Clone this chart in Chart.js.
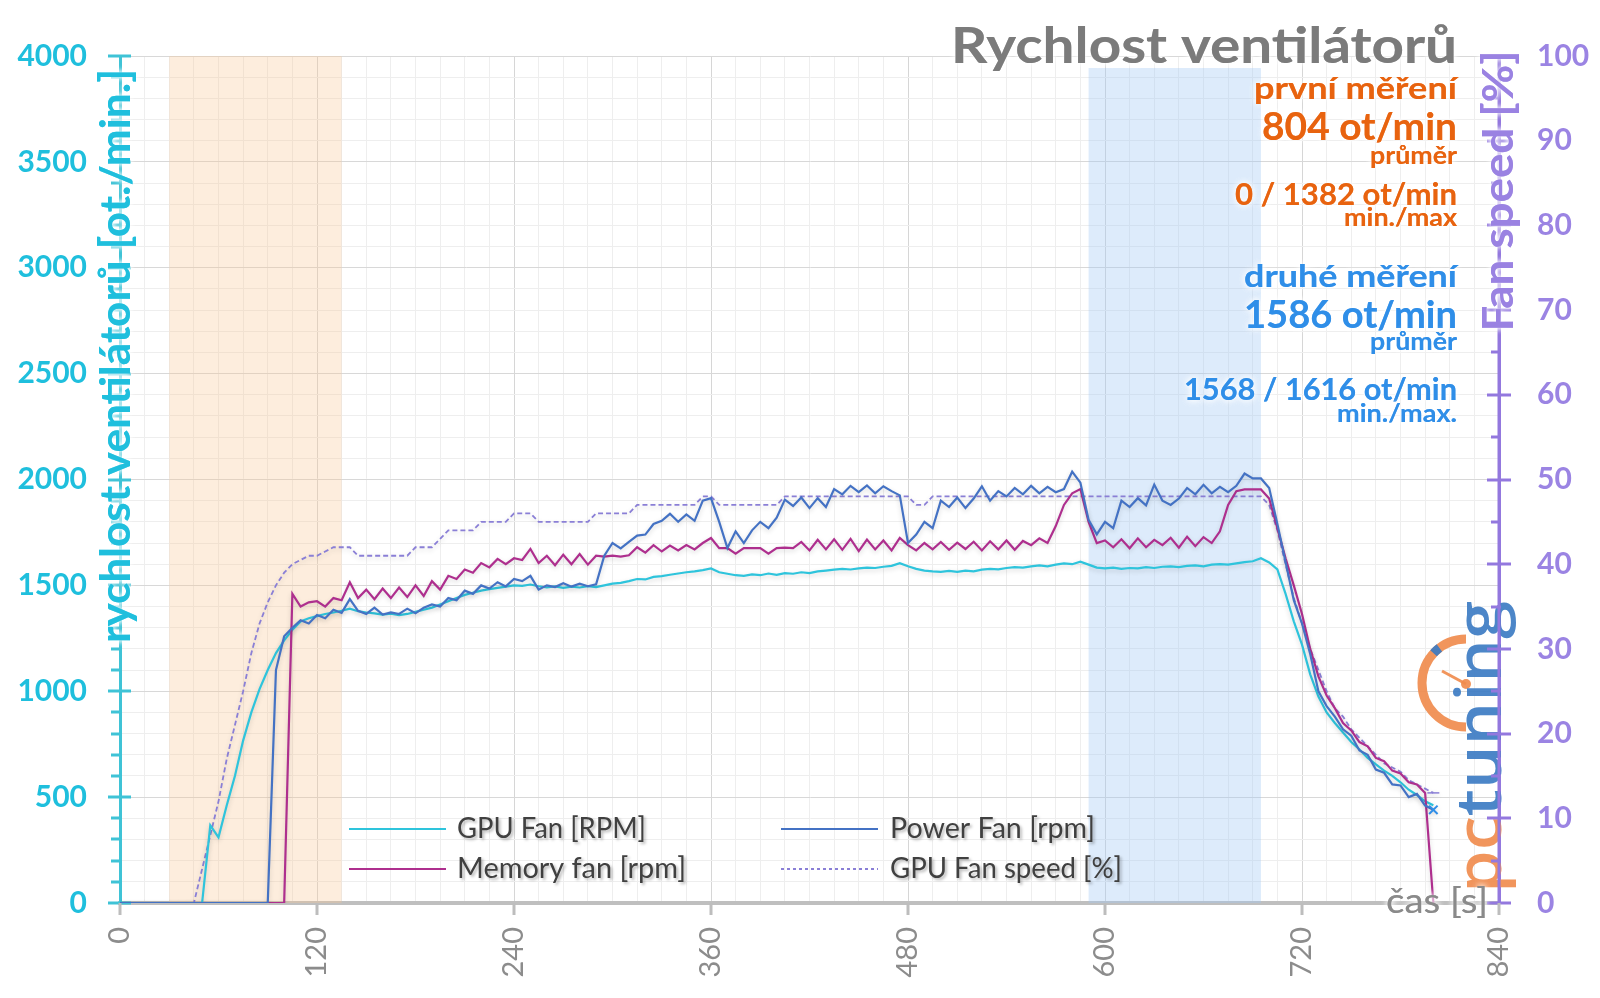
<!DOCTYPE html>
<html>
<head>
<meta charset="utf-8">
<script src="https://cdn.jsdelivr.net/npm/chart.js@4.4.0/dist/chart.umd.min.js"></script>
<style>
  html, body { margin: 0; padding: 0; background: #fff; }
  #wrap { width: 1600px; height: 998px; }
</style>
</head>
<body>
<div id="wrap"><canvas id="chart" width="1600" height="998"></canvas></div>
<script>
// time axis [s]
const seconds = [
  0, 5, 10, 15, 20, 25, 30, 35, 40, 45,
  50, 55, 60, 65, 70, 75, 80, 85, 90, 95,
  100, 105, 110, 115, 120, 125, 130, 135, 140, 145,
  150, 155, 160, 165, 170, 175, 180, 185, 190, 195,
  200, 205, 210, 215, 220, 225, 230, 235, 240, 245,
  250, 255, 260, 265, 270, 275, 280, 285, 290, 295,
  300, 305, 310, 315, 320, 325, 330, 335, 340, 345,
  350, 355, 360, 365, 370, 375, 380, 385, 390, 395,
  400, 405, 410, 415, 420, 425, 430, 435, 440, 445,
  450, 455, 460, 465, 470, 475, 480, 485, 490, 495,
  500, 505, 510, 515, 520, 525, 530, 535, 540, 545,
  550, 555, 560, 565, 570, 575, 580, 585, 590, 595,
  600, 605, 610, 615, 620, 625, 630, 635, 640, 645,
  650, 655, 660, 665, 670, 675, 680, 685, 690, 695,
  700, 705, 710, 715, 720, 725, 730, 735, 740, 745,
  750, 755, 760, 765, 770, 775, 780, 785, 790, 795,
  800
];

const gpuFanRpm = [
  0, 0, 0, 0, 0, 0, 0, 0, 0, 0,
  0, 367, 310, 460, 600, 767, 900, 1010, 1100, 1180,
  1240, 1290, 1330, 1345, 1355, 1365, 1372, 1380, 1390, 1378,
  1372, 1368, 1362, 1366, 1360, 1365, 1375, 1385, 1395, 1410,
  1425, 1440, 1455, 1465, 1475, 1482, 1488, 1494, 1500, 1498,
  1504, 1496, 1490, 1495, 1488, 1494, 1490, 1496, 1492, 1500,
  1508, 1512, 1520, 1530, 1528, 1540, 1544, 1550, 1556, 1562,
  1566, 1572, 1580, 1562, 1555, 1548, 1545, 1552, 1548, 1556,
  1550, 1558, 1555, 1562, 1558, 1566, 1570, 1574, 1578, 1575,
  1580, 1584, 1582, 1588, 1592, 1605, 1590, 1578, 1570, 1566,
  1564, 1568, 1564, 1570, 1566, 1574, 1578, 1576, 1582, 1586,
  1584, 1590, 1594, 1590, 1598, 1604, 1600, 1612, 1598, 1584,
  1580, 1584, 1578, 1582, 1580, 1586, 1582, 1588, 1590, 1586,
  1592, 1594, 1590, 1598, 1600, 1598, 1604, 1610, 1614, 1628,
  1608, 1575, 1460, 1330, 1220, 1080, 975, 900, 850, 805,
  760, 725, 685, 655, 625, 600, 570, 535, 510, 480,
  462
];

const powerFanRpm = [
  0, 0, 0, 0, 0, 0, 0, 0, 0, 0,
  0, 0, 0, 0, 0, 0, 0, 0, 0, 1100,
  1260, 1300, 1335, 1320, 1360, 1345, 1385, 1370, 1435, 1380,
  1365, 1395, 1362, 1372, 1365, 1390, 1368, 1395, 1410, 1400,
  1440, 1430, 1475, 1460, 1500, 1485, 1515, 1495, 1530, 1520,
  1545, 1480, 1500, 1492, 1510, 1494, 1508, 1496, 1505, 1640,
  1700, 1675, 1705, 1735, 1740, 1790, 1805, 1838, 1800, 1835,
  1805, 1900, 1912, 1800, 1676, 1755, 1700, 1760, 1800, 1770,
  1820, 1905, 1875, 1915, 1865, 1912, 1870, 1955, 1930, 1970,
  1940, 1972, 1935, 1968, 1945, 1925, 1700, 1740, 1800, 1770,
  1900, 1870, 1915, 1865, 1910, 1968, 1900, 1945, 1920, 1960,
  1930, 1970, 1935, 1965, 1940, 1955, 2037, 1985, 1810, 1741,
  1800, 1770, 1900, 1870, 1912, 1878, 1976, 1900, 1880, 1910,
  1960, 1930, 1975, 1935, 1965, 1940, 1970, 2028, 2005, 2005,
  1960, 1790, 1610, 1430, 1320, 1176, 1000, 930, 880, 820,
  790, 720, 700, 630, 615, 560, 555, 500, 515, 460,
  440
];

const memoryFanRpm = [
  0, 0, 0, 0, 0, 0, 0, 0, 0, 0,
  0, 0, 0, 0, 0, 0, 0, 0, 0, 0,
  0, 1460, 1400, 1420, 1425, 1400, 1440, 1430, 1515, 1440,
  1480, 1435, 1485, 1440, 1490, 1445, 1500, 1450, 1520, 1480,
  1545, 1530, 1575, 1560, 1605, 1585, 1625, 1600, 1628, 1620,
  1672, 1605, 1640, 1595, 1645, 1600, 1648, 1598, 1640, 1636,
  1640, 1636, 1642, 1680, 1655, 1690, 1660, 1688, 1665, 1690,
  1670, 1700, 1724, 1676, 1676, 1650, 1676, 1676, 1676, 1650,
  1676, 1678, 1676, 1705, 1665, 1715, 1670, 1718, 1668, 1720,
  1662, 1716, 1670, 1712, 1665, 1724, 1690, 1665, 1700, 1670,
  1705, 1668, 1702, 1672, 1706, 1665, 1708, 1670, 1712, 1668,
  1710, 1690, 1722, 1700, 1780, 1880, 1935, 1955, 1800, 1700,
  1712, 1680, 1718, 1675, 1722, 1680, 1715, 1690, 1725, 1678,
  1730, 1685, 1728, 1700, 1755, 1880, 1945, 1953, 1953, 1953,
  1910, 1770, 1628, 1500, 1365, 1200, 1070, 980, 920, 850,
  815, 760, 740, 685, 670, 625, 612, 570, 560, 520,
  0
];

const gpuFanPct = [
  0, 0, 0, 0, 0, 0, 0, 0, 0, 0,
  4, 8, 12, 17, 21, 25, 29.5, 33, 35.5, 37.5,
  39, 40, 40.5, 41, 41, 41.5, 42, 42, 42, 41,
  41, 41, 41, 41, 41, 41, 42, 42, 42, 43,
  44, 44, 44, 44, 45, 45, 45, 45, 46, 46,
  46, 45, 45, 45, 45, 45, 45, 45, 46, 46,
  46, 46, 46, 47, 47, 47, 47, 47, 47, 47,
  47, 48, 48, 47, 47, 47, 47, 47, 47, 47,
  47, 48, 48, 48, 48, 48, 48, 48, 48, 48,
  48, 48, 48, 48, 48, 48, 48, 47, 47, 48,
  48, 48, 48, 48, 48, 48, 48, 48, 48, 48,
  48, 48, 48, 48, 48, 48, 48, 48, 48, 48,
  48, 48, 48, 48, 48, 48, 48, 48, 48, 48,
  48, 48, 48, 48, 48, 48, 48, 48, 48, 48,
  47, 44, 40, 36, 33, 30, 27.5, 25, 23, 22,
  20.5, 19.5, 18.5, 17.5, 16.5, 16, 15.5, 14.5, 14, 13.5,
  13
];

// measured windows [s]
const firstRun = [30, 135];
const secondRun = [590, 695];

const summaryFirst = ['první měření', '804 ot/min', 'průměr', '0 / 1382 ot/min', 'min./max'];
const summarySecond = ['druhé měření', '1586 ot/min', 'průměr', '1568 / 1616 ot/min', 'min./max.'];

const FONT = 'Lato, "Open Sans", "DejaVu Sans", sans-serif';
const lastIdx = seconds.length - 1;

function pts(arr) {
  return seconds.map((s, i) => ({ x: s, y: arr[i] }));
}

// draw text squeezed/stretched to a target width
function drawFitted(ctx, text, o) {
  ctx.save();
  ctx.font = (o.weight || 'bold') + ' ' + o.size + 'px ' + (o.family || FONT);
  const w = ctx.measureText(text).width;
  const sx = o.width ? o.width / w : 1;
  const dw = w * sx;
  ctx.translate(o.x, o.y);
  if (o.rotate) ctx.rotate(-Math.PI / 2);
  let start = 0;
  if (o.align === 'right') start = -dw;
  else if (o.align === 'center') start = -dw / 2;
  ctx.translate(start, 0);
  ctx.scale(sx, 1);
  ctx.textAlign = 'left';
  ctx.textBaseline = o.baseline || 'alphabetic';
  if (o.glow) { ctx.shadowColor = o.glow; ctx.shadowBlur = 6; }
  if (o.shadow) { ctx.shadowColor = o.shadow; ctx.shadowBlur = 3; ctx.shadowOffsetX = 2; ctx.shadowOffsetY = 2; }
  ctx.fillStyle = o.color;
  ctx.fillText(text, 0, 0);
  if (o.glow) ctx.fillText(text, 0, 0);
  ctx.restore();
}

function drawLogo(ctx) {
  const cx = 1466, cy = 683, r = 44;
  ctx.save();
  ctx.globalAlpha = 0.92;
  ctx.strokeStyle = '#f08c4e';
  ctx.lineWidth = 9;
  ctx.beginPath();
  ctx.arc(cx, cy, r, -Math.PI / 2, Math.PI / 2, true);
  ctx.stroke();
  ctx.strokeStyle = '#3d7cc3';
  ctx.beginPath();
  ctx.arc(cx, cy, r, -2.4, -2.22);
  ctx.stroke();
  ctx.strokeStyle = '#f08c4e';
  ctx.lineWidth = 3;
  ctx.beginPath();
  ctx.moveTo(1442, 671);
  ctx.lineTo(cx, cy + 1);
  ctx.stroke();
  ctx.fillStyle = '#f08c4e';
  ctx.beginPath();
  ctx.arc(cx, cy + 1, 5, 0, Math.PI * 2);
  ctx.fill();

  ctx.translate(1501, 893);
  ctx.rotate(-Math.PI / 2);
  ctx.font = '600 64px "Open Sans", sans-serif';
  const wpc = ctx.measureText('pc').width;
  const wt = ctx.measureText('tuning').width;
  const sx = 292 / (wpc + wt);
  ctx.scale(sx, 1);
  ctx.textBaseline = 'alphabetic';
  ctx.fillStyle = '#f08c4e';
  ctx.fillText('pc', 0, 0);
  ctx.fillStyle = '#3d7cc3';
  ctx.fillText('tuning', wpc, 0);
  ctx.restore();
}

const decor = {
  id: 'decor',
  beforeDatasetsDraw(chart) {
    const { ctx, chartArea: a, scales: { x, y, y1 } } = chart;
    ctx.save();
    // measurement windows
    ctx.fillStyle = 'rgba(250,200,150,0.32)';
    ctx.fillRect(x.getPixelForValue(firstRun[0]), a.top, x.getPixelForValue(firstRun[1]) - x.getPixelForValue(firstRun[0]), a.bottom - a.top);
    ctx.fillStyle = 'rgba(160,200,245,0.36)';
    ctx.fillRect(x.getPixelForValue(secondRun[0]), a.top + 12, x.getPixelForValue(secondRun[1]) - x.getPixelForValue(secondRun[0]), a.bottom - a.top - 12);

    drawLogo(ctx);

    // left axis tick marks
    ctx.strokeStyle = '#3fc3d6';
    ctx.lineWidth = 3;
    for (let v = 0; v <= 4000; v += 100) {
      const py = Math.round(y.getPixelForValue(v));
      const major = v % 500 === 0;
      ctx.beginPath();
      ctx.moveTo(a.left - (major ? 12 : 9), py);
      ctx.lineTo(a.left + (major ? 11 : 0), py);
      ctx.stroke();
    }
    // right axis line + tick marks
    ctx.strokeStyle = '#9378de';
    ctx.beginPath();
    ctx.moveTo(a.right, a.top);
    ctx.lineTo(a.right, a.bottom);
    ctx.stroke();
    for (let v = 0; v <= 100; v += 5) {
      const py = Math.round(y1.getPixelForValue(v));
      const major = v % 10 === 0;
      ctx.beginPath();
      ctx.moveTo(a.right - (major ? 12 : 8), py);
      ctx.lineTo(a.right + (major ? 12 : 2), py);
      ctx.stroke();
    }
    // x axis tick marks
    ctx.strokeStyle = '#bdbdbd';
    for (let v = 0; v <= 840; v += 120) {
      const px = Math.round(x.getPixelForValue(v));
      ctx.beginPath();
      ctx.moveTo(px, a.bottom);
      ctx.lineTo(px, a.bottom + 12);
      ctx.stroke();
    }
    ctx.restore();
  },
  beforeDatasetDraw(chart) {
    const ctx = chart.ctx;
    ctx.save();
    ctx.shadowColor = 'rgba(0,0,0,0.16)';
    ctx.shadowBlur = 5;
    ctx.shadowOffsetY = 2;
  },
  afterDatasetDraw(chart) {
    chart.ctx.restore();
  },
  afterDraw(chart) {
    const ctx = chart.ctx;
    const orange = '#e8630f', blue = '#2f8ee8', white = 'rgba(255,255,255,1)';

    drawFitted(ctx, 'Rychlost ventilátorů', { x: 1457, y: 63, size: 50, width: 506, align: 'right', color: '#7b7b7b', glow: white });

    const specs = [
      { y: 99, size: 31, width: 203 },
      { y: 140, size: 38, width: 195 },
      { y: 164, size: 25, width: 87 },
      { y: 205, size: 31, width: 222 },
      { y: 226, size: 25, width: 113 }
    ];
    const specs2 = [
      { y: 287, size: 31, width: 213 },
      { y: 328, size: 38, width: 213 },
      { y: 350, size: 25, width: 87 },
      { y: 400, size: 31, width: 273 },
      { y: 422, size: 25, width: 120 }
    ];
    summaryFirst.forEach((t, i) => drawFitted(ctx, t, Object.assign({ x: 1457, align: 'right', color: orange, glow: white }, specs[i])));
    summarySecond.forEach((t, i) => drawFitted(ctx, t, Object.assign({ x: 1457, align: 'right', color: blue, glow: white }, specs2[i])));

    // axis titles
    drawFitted(ctx, 'rychlost ventilátorů [ot./min.]', { x: 116, y: 356, size: 42, width: 574, align: 'center', rotate: true, baseline: 'middle', color: '#1fbfdd', glow: white });
    drawFitted(ctx, 'Fan speed [%]', { x: 1499, y: 191, size: 42, width: 281, align: 'center', rotate: true, baseline: 'middle', color: '#9a82e2', glow: white });
    drawFitted(ctx, 'čas [s]', { x: 1437, y: 902, size: 34, width: 102, align: 'center', baseline: 'middle', weight: 'normal', color: '#8a8a8a', glow: white });

    // legend
    const items = {
      'GPU Fan [RPM]': { lx: 349, tx: 457, y: 829, w: 189 },
      'Power Fan [rpm]': { lx: 781, tx: 890, y: 829, w: 205 },
      'Memory fan [rpm]': { lx: 349, tx: 457, y: 869, w: 229 },
      'GPU Fan speed [%]': { lx: 781, tx: 890, y: 869, w: 232 }
    };
    chart.data.datasets.forEach(ds => {
      const it = items[ds.label];
      ctx.save();
      ctx.strokeStyle = ds.borderColor;
      ctx.lineWidth = ds.borderWidth;
      if (ds.borderDash) ctx.setLineDash([3, 3]);
      ctx.beginPath();
      ctx.moveTo(it.lx, it.y);
      ctx.lineTo(it.lx + 97, it.y);
      ctx.stroke();
      ctx.restore();
      drawFitted(ctx, ds.label, { x: it.tx, y: it.y, size: 28, width: it.w, align: 'left', baseline: 'middle', weight: 'normal', color: '#404040', shadow: 'rgba(0,0,0,0.28)' });
    });
  }
};

new Chart(document.getElementById('chart').getContext('2d'), {
  type: 'line',
  data: {
    datasets: [
      {
        label: 'Power Fan [rpm]',
        data: pts(powerFanRpm),
        borderColor: '#4472c4',
        borderWidth: 2.2,
        yAxisID: 'y',
        pointStyle: 'crossRot',
        pointRadius: c => (c.dataIndex === lastIdx ? 6 : 0),
        pointBorderColor: '#2f8ee8',
        pointBorderWidth: 2
      },
      {
        label: 'Memory fan [rpm]',
        data: pts(memoryFanRpm),
        borderColor: '#ae2f8e',
        borderWidth: 2.2,
        yAxisID: 'y',
        pointRadius: 0
      },
      {
        label: 'GPU Fan [RPM]',
        data: pts(gpuFanRpm),
        borderColor: '#2ec4dc',
        borderWidth: 2.2,
        yAxisID: 'y',
        pointRadius: 0
      },
      {
        label: 'GPU Fan speed [%]',
        data: pts(gpuFanPct),
        borderColor: '#8a7fd6',
        borderWidth: 1.8,
        borderDash: [5, 3],
        yAxisID: 'y1',
        pointStyle: 'line',
        pointRadius: c => (c.dataIndex === lastIdx ? 6 : 0),
        pointBorderColor: '#8a7fd6',
        pointBorderWidth: 1.5
      }
    ]
  },
  options: {
    responsive: false,
    animation: false,
    devicePixelRatio: 1,
    layout: { padding: { top: 53, left: 0, right: 0, bottom: 0 } },
    plugins: { legend: { display: false }, tooltip: { enabled: false } },
    scales: {
      x: {
        type: 'linear',
        min: 0,
        max: 840,
        afterFit: s => { s.height = 95; },
        ticks: {
          stepSize: 15,
          autoSkip: false,
          minRotation: 90,
          maxRotation: 90,
          padding: 24,
          color: '#8c8c8c',
          font: { family: FONT, size: 29 },
          callback: v => (v % 120 === 0 ? v : '')
        },
        grid: {
          color: c => (c.tick && c.tick.value % 120 === 0 ? '#d6d6d6' : '#eeeeee'),
          drawTicks: false
        },
        border: { color: '#bfbfbf', width: 4 }
      },
      y: {
        position: 'left',
        min: 0,
        max: 4000,
        afterFit: s => { s.width = 120; },
        ticks: {
          stepSize: 100,
          autoSkip: false,
          padding: 33,
          color: '#1fbfdd',
          font: { family: FONT, size: 30, weight: 'bold' },
          callback: v => (v % 500 === 0 ? v : '')
        },
        grid: {
          color: c => (c.tick && c.tick.value % 500 === 0 ? '#d8d8d8' : '#eeeeee'),
          drawTicks: false
        },
        border: { color: '#3fc3d6', width: 3 }
      },
      y1: {
        position: 'right',
        min: 0,
        max: 100,
        afterFit: s => { s.width = 101; },
        ticks: {
          stepSize: 5,
          autoSkip: false,
          padding: 38,
          color: '#9b84e3',
          font: { family: FONT, size: 30, weight: 'bold' },
          callback: v => (v % 10 === 0 ? v : '')
        },
        grid: { drawOnChartArea: false, drawTicks: false },
        border: { color: '#9378de', width: 3 }
      }
    }
  },
  plugins: [decor]
});
</script>
</body>
</html>
